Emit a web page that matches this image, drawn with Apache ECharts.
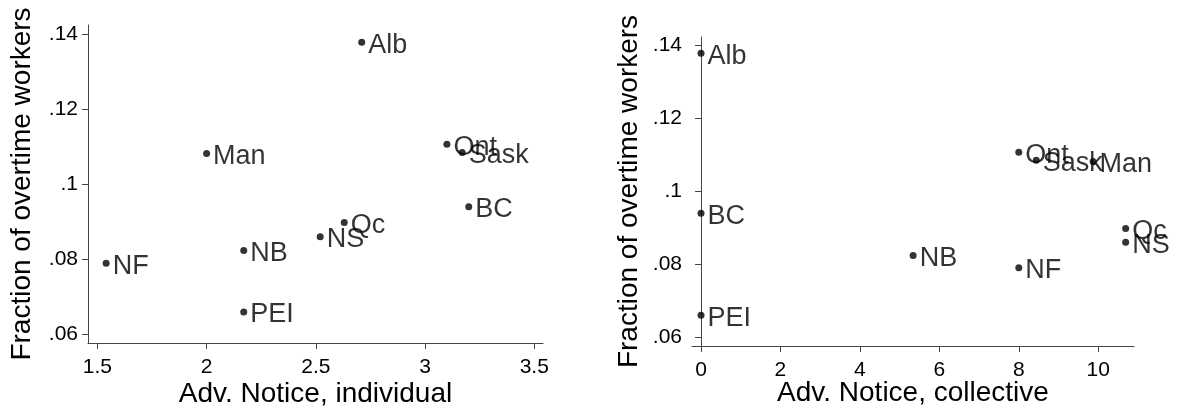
<!DOCTYPE html>
<html>
<head>
<meta charset="utf-8">
<script src="https://cdn.jsdelivr.net/npm/echarts@6/dist/echarts.min.js"></script>
<style>
  html, body { margin: 0; padding: 0; background: #fff; }
  #chart { width: 1178px; height: 409px; }
</style>
</head>
<body>
<div id="chart"></div>
<script>
// provinces and values
const provinces = ["NF", "PEI", "NS", "NB", "Qc", "Ont", "Man", "Sask", "Alb", "BC"]
const overtime = [0.079, 0.066, 0.086, 0.0824, 0.0898, 0.1107, 0.1082, 0.1085, 0.1379, 0.094]
const noticeIndividual = [1.54, 2.17, 2.52, 2.17, 2.63, 3.10, 2.0, 3.17, 2.71, 3.2]
const noticeCollective = [8, 0, 10.69, 5.34, 10.69, 8, 9.87, 8.44, 0, 0]

const yTicks = [0.06, 0.08, 0.1, 0.12, 0.14]
const xTicksIndividual = [1.5, 2, 2.5, 3, 3.5]
const xTicksCollective = [0, 2, 4, 6, 8, 10]

const FONT = "'Liberation Sans', Arial, Helvetica, sans-serif"
const axisColor = "#444"

function fmtShare(v) {
  // Stata style: .14, .1, .06
  return v.toFixed(2).replace(/^0/, "").replace(/0$/, "")
}

function xAxis(gridIndex, name, min, max, ticks, gap) {
  return {
    type: "value",
    gridIndex: gridIndex,
    min: min,
    max: max,
    name: name,
    nameLocation: "middle",
    nameGap: gap,
    nameMoveOverlap: false,
    nameTextStyle: { color: "#000", fontSize: 28, fontFamily: FONT },
    splitLine: { show: false },
    axisLine: { lineStyle: { color: axisColor, width: 1 } },
    axisTick: { length: 6, customValues: ticks, lineStyle: { color: axisColor } },
    axisLabel: { customValues: ticks, color: "#000", fontSize: 21, fontFamily: FONT, margin: 14 }
  }
}

function yAxis(gridIndex, min, max, gap) {
  return {
    type: "value",
    gridIndex: gridIndex,
    min: min,
    max: max,
    name: "Fraction of overtime workers",
    nameLocation: "middle",
    nameGap: gap,
    nameMoveOverlap: false,
    nameTextStyle: { color: "#000", fontSize: 28, fontFamily: FONT },
    splitLine: { show: false },
    axisLine: { show: true, lineStyle: { color: axisColor, width: 1 } },
    axisTick: { show: true, length: 6, customValues: yTicks, lineStyle: { color: axisColor } },
    axisLabel: { customValues: yTicks, color: "#000", fontSize: 21, fontFamily: FONT, margin: 10, formatter: fmtShare }
  }
}

function points(xs) {
  return provinces.map((p, i) => ({ name: p, value: [xs[i], overtime[i]] }))
}

const labelStyle = {
  show: true,
  position: "right",
  distance: 3,
  offset: [0, 3],
  formatter: "{b}",
  color: "#000",
  fontSize: 27,
  fontFamily: FONT
}

const chart = echarts.init(document.getElementById("chart"), null, { renderer: "canvas" })
chart.setOption({
  backgroundColor: "#fff",
  animation: false,
  grid: [
    { left: 88, top: 25, width: 455, height: 318, outerBoundsMode: "none" },
    { left: 692, top: 37, width: 442, height: 309, outerBoundsMode: "none" }
  ],
  xAxis: [
    xAxis(0, "Adv. Notice, individual", 1.457, 3.54, xTicksIndividual, 37),
    xAxis(1, "Adv. Notice, collective", -0.227, 10.9, xTicksCollective, 33)
  ],
  yAxis: [
    yAxis(0, 0.05771, 0.14248, 52),
    yAxis(1, 0.05753, 0.14236, 49)
  ],
  series: [
    {
      type: "scatter",
      xAxisIndex: 0,
      yAxisIndex: 0,
      symbolSize: 7,
      itemStyle: { color: "#000" },
      label: labelStyle,
      data: points(noticeIndividual)
    },
    {
      type: "scatter",
      xAxisIndex: 1,
      yAxisIndex: 1,
      symbolSize: 7,
      itemStyle: { color: "#000" },
      label: labelStyle,
      data: points(noticeCollective)
    }
  ]
})
</script>
</body>
</html>
